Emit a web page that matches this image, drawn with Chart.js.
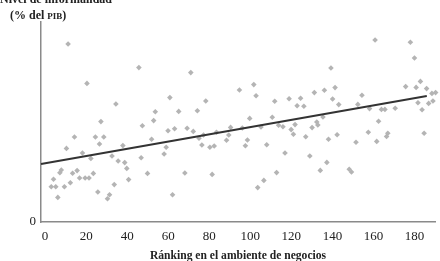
<!DOCTYPE html>
<html><head><meta charset="utf-8">
<script src="https://cdn.jsdelivr.net/npm/chart.js@4"></script>
<style>html,body{margin:0;padding:0;background:#fff;overflow:hidden;}#wrap{width:440px;height:261px;position:relative;}</style>
</head><body><div id="wrap"><canvas id="c" width="440" height="261"></canvas></div>
<script>
// Business-environment ranking (x) vs informality level (% of GDP, y)
const rankX = [11.2,45.7,20.4,34.5,27.2,47.4,14.3,24.5,28.6,26.5,10.4,18.2,37.9,22.3,32.6,35.6,38.8,39.8,46.8,7.9,7.2,13.4,15.6,23.5,16.8,19.5,21.4,4.1,12.3,40.7,3.0,5.2,9.4,33.7,25.7,6.2,31.4,30.4,
 71.0,60.8,78.3,94.7,53.7,65.1,74.2,52.9,59.9,63.1,69.2,72.2,75.0,77.2,83.5,90.4,89.5,88.4,51.9,76.4,80.3,82.4,59.0,58.0,49.9,68.1,81.4,62.1,
 139.3,101.7,102.8,111.9,118.9,124.5,122.8,126.1,131.2,136.1,141.3,140.1,143.1,99.7,110.7,96.1,105.2,113.8,115.9,121.8,119.9,121.0,127.0,130.1,132.4,132.9,135.4,98.6,97.6,108.0,116.9,129.0,138.1,142.3,137.3,134.1,112.8,106.6,103.6,
 160.8,178.0,180.0,154.4,175.7,180.8,182.9,185.9,188.5,190.3,189.0,186.9,183.7,181.7,152.4,158.1,163.9,165.6,170.6,162.5,157.5,167.0,166.4,161.6,151.5,184.7,148.2,149.3];
const informalY = [89,77.2,69.3,59,50.2,48.1,42.5,42.5,42.5,39,36.8,34.5,38.2,31.8,33,30.5,29.7,26.8,32.1,26,24.6,24.4,25.7,24.3,22,22,22,21.4,19.6,21.2,17.6,17.6,17.6,18.7,15,12.3,13.6,11.6,
 74.7,62.2,60.5,66,55.1,55.3,55.6,50.7,45.6,46.6,46.9,45.3,41.9,43.5,44.9,47.3,43.5,40.9,41.4,38.5,37.4,38,37.4,34,24.3,24.5,23.8,13.6,
 77,68.7,63.1,60.4,61.6,61.9,58.1,57.9,64.7,65.9,67.2,61.5,58.7,51.8,52.4,47,47.5,48.4,47.6,48.7,46.2,43.9,42.6,47.2,50,48.5,52.5,41,38.1,38.6,34.5,33,41.4,43.6,29.8,25.8,24.7,20.8,17.2,
 91,89.9,82,63.4,67.7,67.3,70.3,66.7,64.3,64.7,60.5,59.3,56.1,59.6,58.8,56.7,56.3,56.3,56.9,50.4,44.9,44.4,42.8,40.3,39.9,44.4,26.4,25];
const trendX = [-2, 186];
const trendY = [29, 63];
const xTickValues = [0,20,40,60,80,100,120,140,160,180];
const yTickValues = [0];
const xTitle = "Ránking en el ambiente de negocios";
const yTitleTop = "Nivel de informalidad";
const yTitleUnitA = "(% del ";
const yTitleUnitB = "PIB";
const yTitleUnitC = ")";

const SERIF = '"Liberation Serif", "DejaVu Serif", serif';

const yTitlePlugin = {
  id: 'yTitle',
  afterDraw(chart) {
    const ctx = chart.ctx;
    ctx.save();
    ctx.fillStyle = '#222';
    ctx.textBaseline = 'alphabetic';
    ctx.textAlign = 'left';
    ctx.font = 'bold 12px ' + SERIF;
    ctx.fillText(yTitleTop, 0, 3);
    let x = 10;
    ctx.fillText(yTitleUnitA, x, 19);
    x += ctx.measureText(yTitleUnitA).width;
    ctx.font = 'bold 9px ' + SERIF;
    ctx.fillText(yTitleUnitB, x, 19);
    x += ctx.measureText(yTitleUnitB).width;
    ctx.font = 'bold 12px ' + SERIF;
    ctx.fillText(yTitleUnitC, x, 19);
    ctx.restore();
  }
};

new Chart(document.getElementById('c'), {
  data: {
    datasets: [
      {
        type: 'line',
        data: trendX.map((x, i) => ({x: x, y: trendY[i]})),
        borderColor: '#333333',
        borderWidth: 2,
        pointRadius: 0,
        fill: false,
        clip: false
      },
      {
        type: 'scatter',
        data: rankX.map((x, i) => ({x: x, y: informalY[i]})),
        pointStyle: 'rectRot',
        pointRadius: 2.8,
        backgroundColor: '#b4b4b4',
        borderWidth: 0,
        clip: false
      }
    ]
  },
  options: {
    responsive: false,
    animation: false,
    devicePixelRatio: 1,
    layout: {padding: {top: 22, right: 5, left: 0, bottom: 0}},
    plugins: {legend: {display: false}, tooltip: {enabled: false}, title: {display: false}},
    scales: {
      x: {
        type: 'linear',
        min: -2,
        max: 190,
        grid: {display: false, drawTicks: false},
        border: {display: true, color: '#8a8a8a', width: 1.5},
        afterBuildTicks(scale) { scale.ticks = xTickValues.map(v => ({value: v})); },
        afterFit(scale) { scale.height = 39; },
        ticks: {color: '#222', font: {family: SERIF, size: 13}, padding: 7, maxRotation: 0, autoSkip: false},
        title: {display: true, text: xTitle, color: '#222', font: {family: SERIF, size: 11.6, weight: 'bold'}, padding: {top: 0, bottom: -2}}
      },
      y: {
        type: 'linear',
        min: 0,
        max: 100,
        grid: {display: false, drawTicks: false},
        border: {display: true, color: '#8a8a8a', width: 1.5},
        afterBuildTicks(scale) { scale.ticks = yTickValues.map(v => ({value: v})); },
        afterFit(scale) { scale.width = 41; },
        ticks: {color: '#222', font: {family: SERIF, size: 13}, padding: 5}
      }
    }
  },
  plugins: [yTitlePlugin]
});
</script>
</body></html>
